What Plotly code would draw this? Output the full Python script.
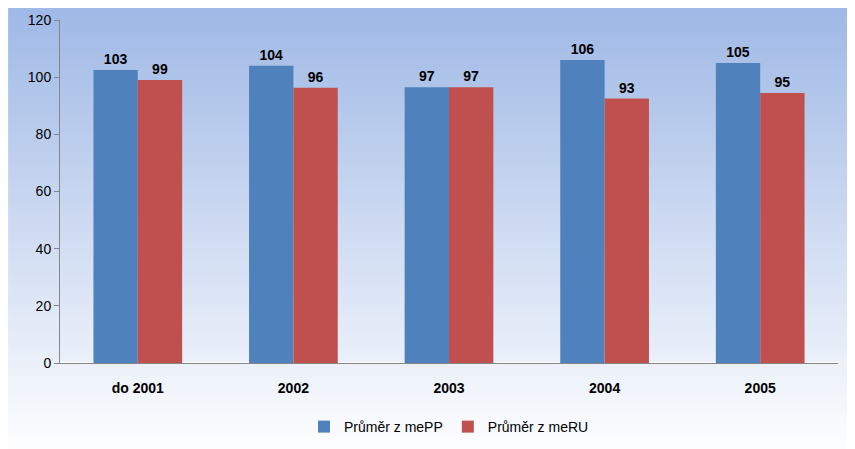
import plotly.graph_objects as go

categories = ["do 2001", "2002", "2003", "2004", "2005"]
mepp = [102.5, 104, 96.5, 106, 105]
meru = [99, 96.3, 96.5, 92.5, 94.5]
mepp_labels = ["103", "104", "97", "106", "105"]
meru_labels = ["99", "96", "97", "93", "95"]

W, H = 855, 449
M_L, M_R, M_T, M_B = 52, 25, 12, 94
PH = H - M_T - M_B

fig = go.Figure()
for name, vals, labels, color in [("Průměr z mePP", mepp, mepp_labels, "#4f81bd"),
                                  ("Průměr z meRU", meru, meru_labels, "#c0504d")]:
    fig.add_trace(go.Bar(x=categories, y=vals, name=name, marker_color=color,
                         marker_line_width=0,
                         text=[f"<b>{t}</b>" for t in labels], textposition="outside",
                         cliponaxis=False,
                         textfont=dict(size=14, color="black")))

# vertical gradient behind the whole chart (light blue -> white)
n = 120
top = 1 + M_T / PH
bottom = -M_B / PH
shapes = []
for i in range(n):
    t = i / (n - 1)
    r = int(160 + (255 - 160) * t)
    g = int(185 + (255 - 185) * t)
    b = int(230 + (255 - 230) * t)
    y1 = top - (top - bottom) * i / n
    y0 = top - (top - bottom) * (i + 1.5) / n
    shapes.append(dict(type="rect", xref="paper", yref="paper", layer="below",
                       x0=-M_L / 780, x1=1 + M_R / 780, y0=y0, y1=y1,
                       fillcolor=f"rgb({r},{g},{b})", line_width=0))

fig.update_layout(
    width=W, height=H,
    barmode="group", bargap=0.43, bargroupgap=0,
    paper_bgcolor="white", plot_bgcolor="rgba(0,0,0,0)",
    shapes=shapes,
    font=dict(family="Liberation Sans", size=13, color="black"),
    margin=dict(l=M_L, r=M_R, t=M_T, b=M_B, autoexpand=False),
    xaxis=dict(showline=True, linecolor="#868686", ticks="", showgrid=False,
               automargin=False, ticklabelstandoff=12,
               tickvals=categories, ticktext=[f"<b>{c}</b>" for c in categories],
               tickfont=dict(size=14)),
    yaxis=dict(range=[0, 120], dtick=20, showgrid=False, showline=True, linecolor="#868686",
               ticks="outside", ticklen=5, tickcolor="#868686", tickfont=dict(size=14),
               automargin=False),
    legend=dict(orientation="h", x=0.5, xanchor="center", y=-0.14, yanchor="top",
                font=dict(size=14), bgcolor="rgba(0,0,0,0)"),
)
fig.write_html("out.html")
